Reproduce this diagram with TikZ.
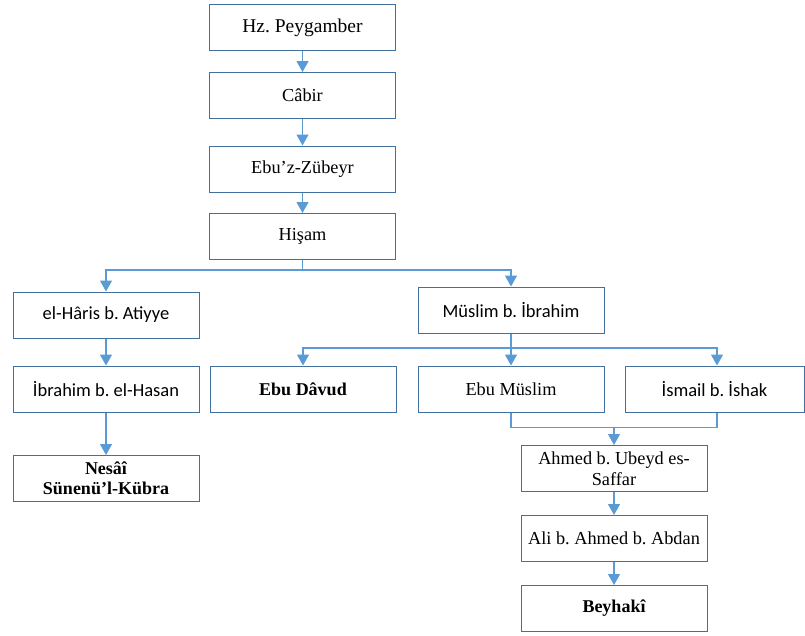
\documentclass[tikz,border=0pt]{standalone}
\usepackage{fontspec}
\setmainfont{Liberation Serif}
\newfontfamily\calibri{Carlito}
\usetikzlibrary{arrows.meta}

\definecolor{boxblue}{HTML}{41719C}
\definecolor{linkblue}{HTML}{5B9BD5}

\tikzset{
  ravi/.style={draw=boxblue,line width=1pt,fill=white,minimum width=186pt,
    minimum height=46pt,inner sep=1pt,align=center,font=\fontsize{18.3}{20.5}\selectfont},
  ravisans/.style={ravi,font=\calibri\fontsize{18.5}{20}\selectfont},
  bold/.style={font=\bfseries\fontsize{18}{20.5}\selectfont},
  link/.style={draw=linkblue,line width=1.3pt},
  arrow/.style={link,-{Triangle[length=11pt,width=12pt]}}
}

\begin{document}
\frenchspacing
\begin{tikzpicture}[x=1pt,y=-1pt]
\useasboundingbox (0,0) rectangle (805,635);
% main chain
\node[ravi,font=\fontsize{19.5}{20.5}\selectfont] (peygamber) at (302.5,27.5) {Hz. Peygamber};
\node[ravi] (cabir) at (302.5,95.5) {Câbir};
\node[ravi] (zubeyr) at (302.5,169) {Ebu’z-Zübeyr};
\node[ravi] (hisam) at (302.5,236.5) {Hişam};
% left branch
\node[ravisans] (haris) at (106,315) {el-Hâris b. Atiyye};
\node[ravisans] (ibrahim) at (106,389) {İbrahim b. el-Hasan};
\node[ravi,bold] (nesai) at (106,478.5) {Nesâî\\Sünenü’l-Kübra};
% right branch
\node[ravisans] (muslim) at (511,310) {Müslim b. İbrahim};
\node[ravi,bold] (davud) at (303,389) {Ebu Dâvud};
\node[ravi] (ebumuslim) at (511,389) {Ebu Müslim};
\node[ravisans,minimum width=179pt] (ismail) at (714.5,389) {İsmail b. İshak};
\node[ravi] (ahmed) at (614,468.5) {Ahmed b. Ubeyd es-\\Saffar};
\node[ravi] (ali) at (614,538.5) {Ali b. Ahmed b. Abdan};
\node[ravi,bold] (beyhaki) at (614,608.5) {Beyhakî};

\coordinate (split1) at (302.5,270);
\coordinate (split2) at (511,348);
\coordinate (join) at (614,427.5);

\draw[arrow] (peygamber) -- (cabir);
\draw[arrow] (cabir) -- (zubeyr);
\draw[arrow] (zubeyr) -- (hisam);
\draw[link] (hisam) -- (split1);
\draw[arrow] (split1) -| (haris);
\draw[arrow] (split1) -| (muslim);
\draw[arrow] (haris) -- (ibrahim);
\draw[arrow] (ibrahim) -- (nesai);
\draw[link] (muslim) -- (split2);
\draw[arrow] (split2) -| (davud);
\draw[arrow] (split2) -- (ebumuslim);
\draw[arrow] (split2) -| ([xshift=2.5pt]ismail.north);
\draw[link] (ebumuslim.south) |- (join) -| ([xshift=2.5pt]ismail.south);
\draw[arrow] (join) -- (ahmed);
\draw[arrow] (ahmed) -- (ali);
\draw[arrow] (ali) -- (beyhaki);
\end{tikzpicture}
\end{document}
